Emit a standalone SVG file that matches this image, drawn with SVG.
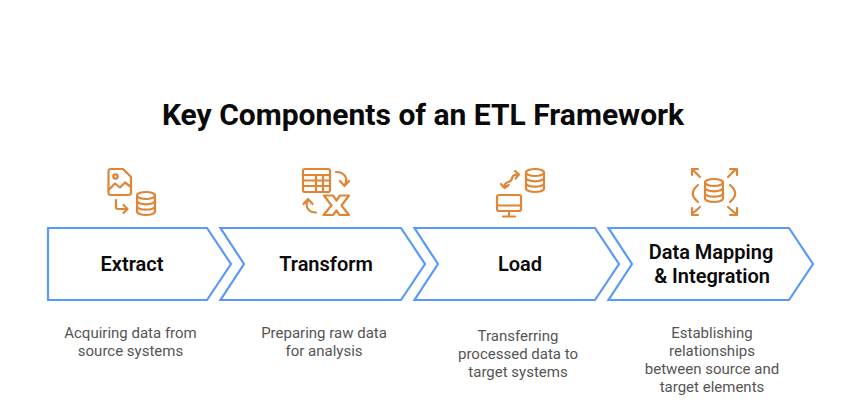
<svg xmlns="http://www.w3.org/2000/svg" width="846" height="415" viewBox="0 0 846 415">
<style>
text{font-family:Roboto,"Liberation Sans",sans-serif;text-anchor:middle}
.title{font-size:30px;font-weight:700;fill:#0a0a0a}
.label{font-size:20px;font-weight:600;fill:#0a0a0a}
.desc{font-size:15px;fill:#555}
.box{fill:#fff;stroke:#5A98FA;stroke-width:2.2}
.ic{fill:none;stroke:#DF8535;stroke-width:2.2;stroke-linecap:round;stroke-linejoin:round}
</style>
<defs>
<g id="db" class="ic"><ellipse cx="9" cy="3.5" rx="9" ry="3.5"/><path d="M0 3.5V19.5C0 21.5 4 23 9 23S18 21.5 18 19.5V3.5M0 8.8C0 10.8 4 12.3 9 12.3S18 10.8 18 8.8M0 14.2C0 16.2 4 17.700 9 17.700S18 16.2 18 14.2"/></g>
</defs>
<rect width="846" height="415" fill="#fff"/>
<text class="title" x="423" y="125">Key Components of an ETL Framework</text>
<g id="connectors"></g>
<g id="extract">
<path class="box" d="M48 228H207L231 264L207 300H48Z"/>
<text class="label" x="132" y="271">Extract</text>
<text class="desc" x="130.500" y="338">Acquiring data from</text>
<text class="desc" x="130.500" y="356">source systems</text>
<g class="ic"><path d="M110.500 169H123L131 177V192.500Q131 195 128.500 195H110.500Q108.500 195 108.500 192.500V171.500Q108.500 169 110.500 169Z"/><circle cx="115.500" cy="176.500" r="2.200"/><path d="M108.500 190L115 183.500L120 187.500L125 182.500L131 187"/><path d="M116 200V207Q116 209 118 209H127.500M123.500 205L127.500 209L123.500 213"/></g>
<use href="#db" x="137" y="192"/>
</g>
<g id="transform">
<path class="box" d="M220.500 228H401L425 264L401 300H220.500L244 264Z"/>
<text class="label" x="326" y="271">Transform</text>
<text class="desc" x="324" y="338">Preparing raw data</text>
<text class="desc" x="324" y="356">for analysis</text>
<g class="ic"><rect x="303" y="169" width="27" height="23" rx="2"/><path d="M303 175H330M303 180.500H330M303 186H330M316 175V192M323 175V192"/><path d="M336 172C344 172 349 178 344.500 185.500M340 181L344.500 186L349 181"/><path d="M316 212.500C308 212.500 304.500 206 308 199.500M303.500 204L308 199L312.500 204"/><path d="M324 195.500H333L336.500 200.500L340 195.500H349L341.500 205.500L349 215H339.500L336.500 210.500L333 215H323.500L331.500 205.500Z"/></g>
</g>
<g id="load">
<path class="box" d="M414.500 228H595L619 264L595 300H414.500L438 264Z"/>
<text class="label" x="520" y="271">Load</text>
<text class="desc" x="518" y="341">Transferring</text>
<text class="desc" x="518" y="359">processed data to</text>
<text class="desc" x="518" y="377">target systems</text>
<use href="#db" x="526" y="169"/>
<g class="ic"><rect x="497" y="195" width="24" height="16" rx="2"/><path d="M497 205.500H521M509 211V216.500M503 216.500H515"/><path d="M504.500 187C504 180 512 184 512 178C512.500 175 515 174.500 518.500 174.500M515 171L519 174.500L515.500 178.500M501 184L504.500 188L508.500 185"/></g>
</g>
<g id="mapping">
<path class="box" d="M608.500 228H789L813 264L789 300H608.500L632 264Z"/>
<text class="label" x="711" y="259">Data Mapping</text>
<text class="label" x="712" y="283">&amp; Integration</text>
<text class="desc" x="712" y="338">Establishing</text>
<text class="desc" x="712" y="356">relationships</text>
<text class="desc" x="712" y="374">between source and</text>
<text class="desc" x="712" y="392">target elements</text>
<use href="#db" x="705" y="179"/>
<g class="ic"><path d="M698 185C691 191 691 196 698 202M730 185C737 191 737 196 730 202"/><path d="M700 177L692 169M692 175V169H698M728 177L736 169M730 169H737V175M700 207L692 214M692 208V215H698M728 207L736 214M737 208V215H730"/></g>
</g>
</svg>
